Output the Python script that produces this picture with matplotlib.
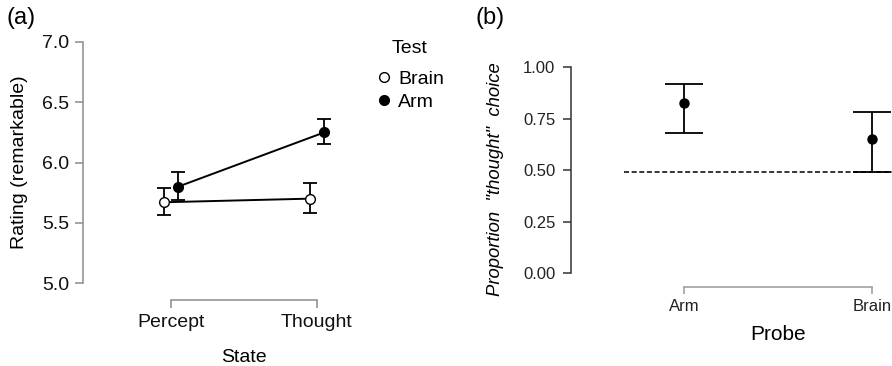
import matplotlib
matplotlib.use("Agg")
import matplotlib.pyplot as plt
from matplotlib.lines import Line2D
import numpy as np

# panel (a) data
state = ['Percept', 'Thought']
brain_mean = [5.67, 5.70]
brain_lo = [5.565, 5.58]
brain_hi = [5.79, 5.83]
arm_mean = [5.80, 6.25]
arm_lo = [5.69, 6.15]
arm_hi = [5.92, 6.36]
rating_ticks = [5.0, 5.5, 6.0, 6.5, 7.0]

# panel (b) data
probe = ['Arm', 'Brain']
prop_mean = [0.827, 0.652]
prop_lo = [0.678, 0.490]
prop_hi = [0.916, 0.782]
chance = 0.49
prop_ticks = [0.0, 0.25, 0.5, 0.75, 1.0]

plt.rcParams['font.family'] = ['Liberation Sans', 'DejaVu Sans']

W, H = 892, 366
fig = plt.figure(figsize=(W / 100, H / 100), dpi=100)


def px_axes(left, right, top, bottom):
    return fig.add_axes([left / W, (H - bottom) / H, (right - left) / W, (bottom - top) / H])


def errs(mean, lo, hi):
    m = np.array(mean)
    return [m - np.array(lo), np.array(hi) - m]


# ---- panel (a)
ax = px_axes(83, 405, 42, 283)
x = np.arange(1, len(state) + 1)
off = 0.05
ax.plot(x - off, brain_mean, color='black', lw=1.4, zorder=2)
ax.plot(x + off, arm_mean, color='black', lw=1.4, zorder=2)
ax.errorbar(x - off, brain_mean, yerr=errs(brain_mean, brain_lo, brain_hi), fmt='none',
            ecolor='black', elinewidth=1.3, capsize=5, capthick=1.3, zorder=3)
ax.errorbar(x + off, arm_mean, yerr=errs(arm_mean, arm_lo, arm_hi), fmt='none',
            ecolor='black', elinewidth=1.3, capsize=5, capthick=1.3, zorder=3)
ax.plot(x - off, brain_mean, 'o', ms=7, mfc='white', mec='black', mew=1.0, zorder=4)
ax.plot(x + off, arm_mean, 'o', ms=7, mfc='black', mec='black', zorder=4)

ax.set_xlim(0.397, 2.603)
ax.set_ylim(5.0, 7.0)
ax.set_xticks(x)
ax.set_xticklabels(state)
ax.set_yticks(rating_ticks)
ax.set_yticklabels(['%.1f' % v for v in rating_ticks])
for s in ['top', 'right']:
    ax.spines[s].set_visible(False)
ax.spines['left'].set_bounds(5.0, 7.0)
ax.spines['bottom'].set_position(('outward', 12))
ax.spines['bottom'].set_bounds(1, 2)
for s in ['left', 'bottom']:
    ax.spines[s].set_color('#8c8c8c')
    ax.spines[s].set_linewidth(1.1)
ax.tick_params(axis='both', direction='out', length=6, width=1.1, color='#8c8c8c',
               labelsize=14, labelcolor='#111111', pad=4)
ax.set_xlabel('State', fontsize=14, labelpad=13)
ax.set_ylabel('Rating (remarkable)', fontsize=14, labelpad=10)
ax.set_facecolor('none')

# legend: title as separate text so its gap to the entries can match
fig.text(410 / W, 1 - 53.3 / H, 'Test', fontsize=14, ha='center', va='baseline')
handles = [Line2D([], [], ls='none', marker='o', ms=7, mfc='white', mec='black'),
           Line2D([], [], ls='none', marker='o', ms=7, mfc='black', mec='black')]
leg = fig.legend(handles, ['Brain', 'Arm'], loc='upper left',
                 bbox_to_anchor=(376 / W, 1 - 70 / H), frameon=False, fontsize=14,
                 handlelength=0.8, handletextpad=0.35,
                 labelspacing=0.28, borderpad=0, borderaxespad=0)

fig.text(6 / W, 1 - 18 / H, '(a)', fontsize=17, va='center', ha='left')

# ---- panel (b)
bx = px_axes(570.7, 985, 67, 273)
xb = np.arange(1, len(probe) + 1)
bx.axhline(chance, xmin=(0.68 - 0.397) / (2.603 - 0.397), color='black', lw=1.1,
           ls=(0, (3.3, 1.7)), zorder=1)
bx.errorbar(xb, prop_mean, yerr=errs(prop_mean, prop_lo, prop_hi), fmt='o', ms=6.5,
            color='black', ecolor='black', elinewidth=1.3, capsize=13.5, capthick=1.3, zorder=3)
bx.set_xlim(0.397, 2.603)
bx.set_ylim(0.0, 1.0)
bx.set_xticks(xb)
bx.set_xticklabels(probe)
bx.set_yticks(prop_ticks)
bx.set_yticklabels(['%.2f' % v for v in prop_ticks])
for s in ['top', 'right']:
    bx.spines[s].set_visible(False)
bx.spines['left'].set_bounds(0.0, 1.0)
bx.spines['left'].set_color('#333333')
bx.spines['bottom'].set_position(('outward', 10))
bx.spines['bottom'].set_bounds(1, 2)
bx.spines['bottom'].set_color('#999999')
for s in ['left', 'bottom']:
    bx.spines[s].set_linewidth(1.1)
bx.tick_params(axis='y', direction='out', length=6, width=1.1, color='#333333',
               labelsize=12, labelcolor='#222222', pad=5)
bx.tick_params(axis='x', direction='out', length=5, width=1.1, color='#999999',
               labelsize=12, labelcolor='#222222', pad=4)
bx.set_xlabel('Probe', fontsize=15, labelpad=8)
bx.set_ylabel('Proportion  "thought"  choice', fontsize=13.3, style='italic')
bx.yaxis.set_label_coords((504 - 570.7) / (985 - 570.7), (273 - 179.5) / 206)
bx.set_facecolor('none')

fig.text(475 / W, 1 - 18 / H, '(b)', fontsize=17, va='center', ha='left')

fig.savefig('out.png', dpi=100)
